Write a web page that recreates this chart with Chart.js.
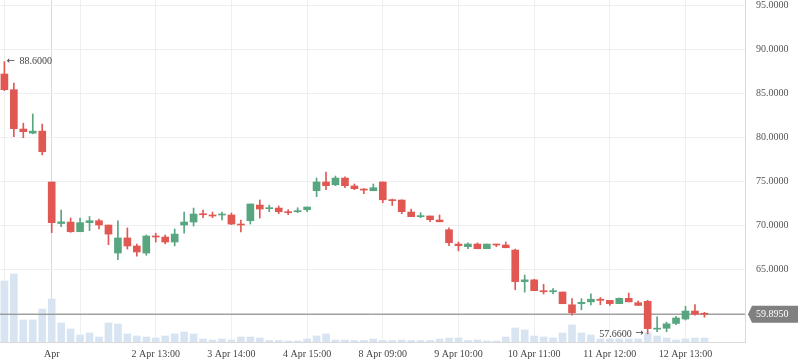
<!DOCTYPE html>
<html>
<head>
<meta charset="utf-8">
<script src="https://cdn.jsdelivr.net/npm/chart.js@4"></script>
<style>
    body { margin: 0; background: #fff; }
    #wrap { width: 798px; height: 363px; }
</style>
</head>
<body>
<div id="wrap"><canvas id="chart" width="798" height="363"></canvas></div>
<script>
// OHLC candles, one per bar (hourly-ish sessions)
const opens  = [87.19, 85.41, 80.94, 80.47, 80.70, 74.92, 70.20, 70.37, 69.27, 70.30,
                70.52, 70.03, 66.85, 68.56, 67.65, 66.85, 68.78, 68.67, 68.10, 70.03,
                70.37, 71.32, 71.17, 71.17, 71.17, 70.14, 70.52, 72.30, 71.89, 71.96,
                71.55, 71.55, 71.77, 73.93, 74.92, 74.60, 75.37, 74.47, 74.12, 73.93,
                74.92, 72.90, 72.87, 71.51, 70.98, 71.06, 70.60, 69.50, 67.87, 67.57,
                67.87, 67.34, 67.87, 67.76, 67.19, 63.60, 63.80, 62.57, 62.45, 62.42,
                60.97, 61.10, 61.30, 61.60, 61.47, 61.10, 61.70, 61.20, 61.36, 58.20,
                58.30, 58.85, 59.35, 60.26, 59.92];
const highs  = [88.60, 86.17, 81.60, 82.65, 81.50, 74.92, 71.74, 70.83, 70.83, 71.00,
                70.70, 70.03, 70.50, 69.70, 67.88, 68.90, 69.10, 68.90, 69.58, 71.50,
                71.96, 71.74, 71.50, 71.50, 71.40, 70.60, 72.42, 72.88, 72.30, 72.20,
                71.77, 72.00, 72.08, 75.37, 76.06, 75.60, 75.50, 74.70, 74.16, 74.70,
                74.92, 72.98, 72.90, 71.85, 71.43, 71.06, 71.17, 69.70, 68.10, 68.00,
                68.00, 67.87, 67.87, 68.10, 67.30, 64.35, 63.85, 63.30, 62.80, 62.42,
                61.66, 61.66, 62.20, 61.80, 61.47, 61.75, 62.30, 61.40, 61.47, 59.60,
                59.00, 59.66, 60.80, 60.98, 60.10];
const lows   = [85.30, 80.07, 79.95, 80.40, 78.00, 69.16, 69.84, 69.20, 69.27, 69.40,
                69.58, 67.79, 66.10, 67.30, 66.50, 66.60, 68.10, 67.90, 67.66, 69.10,
                69.92, 70.86, 70.86, 70.60, 70.07, 69.24, 70.14, 70.83, 71.55, 71.32,
                71.20, 71.43, 71.55, 73.25, 74.05, 74.50, 74.27, 74.05, 73.60, 73.93,
                72.57, 72.25, 71.32, 70.98, 70.86, 70.40, 70.40, 67.68, 67.10, 67.34,
                67.34, 67.34, 67.57, 67.45, 62.68, 62.40, 62.57, 62.20, 62.20, 61.09,
                59.80, 60.40, 60.96, 60.97, 60.90, 61.10, 61.30, 60.90, 57.66, 57.90,
                57.90, 58.70, 59.24, 59.80, 59.55];
const closes = [85.41, 80.98, 80.64, 80.70, 78.36, 70.30, 70.40, 69.27, 70.30, 70.52,
                70.03, 69.00, 68.56, 67.65, 66.97, 68.78, 68.67, 68.10, 69.00, 70.37,
                71.28, 71.20, 71.06, 71.28, 70.14, 70.03, 72.42, 71.85, 72.00, 71.55,
                71.43, 71.66, 72.08, 74.92, 74.50, 75.37, 74.50, 74.16, 74.00, 74.27,
                72.90, 72.80, 71.55, 70.98, 71.10, 70.64, 70.40, 68.02, 67.68, 67.87,
                67.34, 67.87, 67.76, 67.45, 63.60, 63.80, 62.57, 62.45, 62.57, 61.09,
                60.06, 61.25, 61.60, 61.47, 61.10, 61.70, 61.30, 60.90, 58.26, 58.30,
                58.80, 59.47, 60.26, 59.90, 59.895];
// volume (relative units)
const volumes = [61, 68, 22, 22, 33, 43, 19, 13, 7, 9, 5, 19, 18, 8, 6, 5, 4, 6, 8, 10,
                 8, 3, 2, 3, 2, 5, 5, 4, 1.5, 1.5, 1, 1, 3, 6, 8, 2, 2, 1.5, 1.5, 3,
                 1.5, 1.5, 2, 1.5, 1.5, 1.5, 3, 4, 4, 1.5, 2, 1, 1, 5, 14, 12, 6, 5, 4, 9,
                 17, 9, 7, 3, 3, 3, 3, 3, 9, 6, 4, 2, 3, 4, 4];

// time axis ticks (bar index -> label)
const timeTickIdx    = [0, 5, 8, 16, 24, 32, 40, 48, 56, 64, 72];
const timeTickLabels = ['', 'Apr', '', '2 Apr 13:00', '3 Apr 14:00', '4 Apr 15:00',
                        '8 Apr 09:00', '9 Apr 10:00', '10 Apr 11:00', '11 Apr 12:00', '12 Apr 13:00'];
const priceTicks = [60, 65, 70, 75, 80, 85, 90, 95];

const UP = '#58a680', DOWN = '#e15853';
const FONT = "'Liberation Serif', 'Times New Roman', serif";
const xMin = -0.465, xMax = 78.29;
const lastClose = closes[closes.length - 1];

const candleColors = opens.map((o, i) => closes[i] >= o ? UP : DOWN);

// price tag on the right + high/low markers
const overlayPlugin = {
    id: 'overlay',
    afterDraw(chart) {
        const { ctx, scales: { x, y } } = chart;
        ctx.save();
        ctx.textBaseline = 'middle';

        // highest high / lowest low markers (arrow drawn in DejaVu for a full-width glyph)
        const hi = highs.indexOf(Math.max(...highs));
        const lo = lows.indexOf(Math.min(...lows));
        const hx = x.getPixelForValue(hi), hy = y.getPixelForValue(highs[hi]);
        const lx = x.getPixelForValue(lo), ly = y.getPixelForValue(lows[lo]);
        ctx.fillStyle = '#444';
        ctx.textAlign = 'left';
        ctx.font = "10px 'DejaVu Sans'";
        ctx.fillText('\u2190', hx + 2, hy);
        ctx.font = '10px ' + FONT;
        ctx.fillText(highs[hi].toFixed(4), hx + 15, hy);
        ctx.textAlign = 'right';
        ctx.font = "10px 'DejaVu Sans'";
        ctx.fillText('\u2192', lx - 4, ly);
        ctx.font = '10px ' + FONT;
        ctx.fillText(lows[lo].toFixed(4), lx - 16, ly);

        // last price tag
        const py = y.getPixelForValue(lastClose);
        const left = chart.chartArea.right + 3, right = chart.width, h = 17;
        ctx.fillStyle = '#808080';
        ctx.beginPath();
        ctx.moveTo(left, py);
        ctx.lineTo(left + 4, py - h / 2);
        ctx.lineTo(right, py - h / 2);
        ctx.lineTo(right, py + h / 2);
        ctx.lineTo(left + 4, py + h / 2);
        ctx.closePath();
        ctx.fill();
        ctx.fillStyle = '#fff';
        ctx.textAlign = 'left';
        ctx.fillText(lastClose.toFixed(4), chart.chartArea.right + 11, py + 0.5);
        ctx.restore();
    }
};

new Chart(document.getElementById('chart'), {
    type: 'bar',
    data: {
        datasets: [
            {   // candle bodies
                data: opens.map((o, i) => ({ x: i, y: [o, closes[i]] })),
                backgroundColor: candleColors,
                barThickness: 7, minBarLength: 1, grouped: false, order: 0
            },
            {   // wicks
                data: lows.map((l, i) => ({ x: i, y: [l, highs[i]] })),
                backgroundColor: candleColors,
                barThickness: 1, grouped: false, order: 1
            },
            {   // last price line
                type: 'line',
                data: [{ x: xMin, y: lastClose }, { x: xMax, y: lastClose }],
                borderColor: '#7d7d7d', borderWidth: 1, pointRadius: 0, order: 2
            },
            {   // volume
                data: volumes.map((v, i) => ({ x: i, y: v })),
                backgroundColor: '#d8e4f1',
                yAxisID: 'vol', barThickness: 7, grouped: false, order: 3
            }
        ]
    },
    options: {
        responsive: false,
        animation: false,
        layout: { padding: 0 },
        plugins: { legend: { display: false }, tooltip: { enabled: false } },
        scales: {
            x: {
                type: 'linear', min: xMin, max: xMax, offset: false,
                afterBuildTicks: s => { s.ticks = timeTickIdx.map(v => ({ value: v })); },
                afterFit: s => { s.height = 21; s.paddingLeft = 0; s.paddingRight = 0; },
                ticks: {
                    autoSkip: false, maxRotation: 0, padding: 6,
                    color: '#444', font: { family: FONT, size: 10 },
                    callback: (v, i) => timeTickLabels[i]
                },
                grid: { offset: false, drawTicks: false, color: c => c.tick && c.tick.value === 5 ? '#dadada' : '#efefef' },
                border: { color: '#d9d9d9' }
            },
            y: {
                position: 'right', min: 56.74, max: 95.6,
                afterBuildTicks: s => { s.ticks = priceTicks.map(v => ({ value: v })); },
                afterFit: s => { s.width = 53; s.paddingTop = 0; s.paddingBottom = 0; },
                ticks: {
                    padding: 11, color: '#555', font: { family: FONT, size: 10 },
                    callback: v => v.toFixed(4)
                },
                grid: { drawTicks: false, color: '#efefef' },
                border: { color: '#d9d9d9' }
            },
            vol: { display: false, min: 0, max: 342 }
        }
    },
    plugins: [overlayPlugin]
});
</script>
</body>
</html>
